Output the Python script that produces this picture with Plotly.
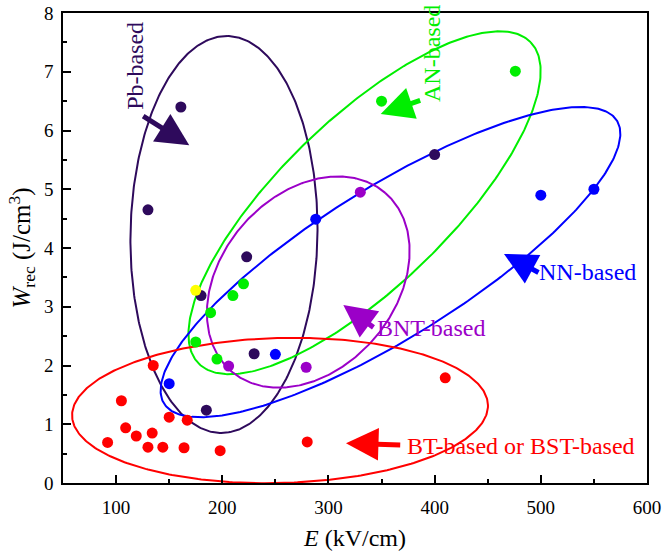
import numpy as np
import plotly.graph_objects as go

# ---------------- data ----------------
bt_E = [135, 105, 109, 119, 134, 130, 144, 164, 198, 92, 150, 167, 280, 410]
bt_W = [2.00, 1.40, 0.94, 0.80, 0.85, 0.61, 0.61, 0.60, 0.55, 0.69, 1.12, 1.07, 0.70, 1.79]
nn_E = [150, 250, 288, 500, 550]
nn_W = [1.69, 2.19, 4.49, 4.90, 5.00]
pb_E = [161, 130, 223, 180, 230, 185, 400]
pb_W = [6.40, 4.65, 3.85, 3.19, 2.20, 1.24, 5.59]
an_E = [476, 350, 175, 189, 210, 220, 195]
an_W = [7.01, 6.50, 2.40, 2.90, 3.19, 3.39, 2.11]
bnt_E = [330, 206, 279]
bnt_W = [4.95, 1.99, 1.97]
misc_E = [175]
misc_W = [3.28]

x_ticks = [100, 200, 300, 400, 500, 600]
y_ticks = [0, 1, 2, 3, 4, 5, 6, 7, 8]

# colours
C_BT = "#FF0000"
C_NN = "#0000FF"
C_PB = "#2E0A5C"
C_AN = "#00EE00"
C_BNT = "#9B00C8"
C_MISC = "#FFFF00"

FONT = "Liberation Serif, Times New Roman, Times, serif"

# group ellipses: centre (data), semi-axes (px), rotation (deg)
ellipses = [
    dict(cx=201.6, cy=4.23, a=198.5, b=93.5, ang=89.0, color=C_PB),
    dict(cx=334.0, cy=4.77, a=231.0, b=84.0, ang=44.0, color=C_AN),
    dict(cx=358.4, cy=3.76, a=267.0, b=75.0, ang=32.0, color=C_NN),
    dict(cx=281.0, cy=3.42, a=117.8, b=86.9, ang=49.0, color=C_BNT),
    dict(cx=254.4, cy=1.234, a=208.0, b=72.5, ang=1.5, color=C_BT),
]

# labels with arrows: text position, arrow tail, arrow tip (data)
labels = [
    dict(text="Pb-based", tx=117.8, ty=7.10, angle=-90, x0=124.1, y0=6.26, x1=168.9, y1=5.75, color=C_PB),
    dict(text="AN-based", tx=397.0, ty=7.31, angle=-90, x0=387.8, y0=6.52, x1=349.2, y1=6.28, color=C_AN),
    dict(text="NN-based", tx=544.4, ty=3.60, angle=0, x0=499.2, y0=3.57, x1=465.3, y1=3.90, color=C_NN),
    dict(text="BNT-based", tx=396.6, ty=2.64, angle=0, x0=343.8, y0=2.63, x1=314.0, y1=3.03, color=C_BNT),
    dict(text="BT-based or BST-based", tx=481.8, ty=0.63, angle=0, x0=369.0, y0=0.647, x1=316.5, y1=0.676, color=C_BT),
]

# ---------------- layout geometry ----------------
W, H = 662, 558
ML, MR, MT, MB = 63, 15, 13, 75
XR = [50, 600]
YR = [0, 8]
sx = (W - ML - MR) / (XR[1] - XR[0])
sy = (H - MT - MB) / (YR[1] - YR[0])

fig = go.Figure()

t = np.linspace(0, 2 * np.pi, 400)
for e in ellipses:
    th = np.deg2rad(e["ang"])
    dx = e["a"] * np.cos(t) * np.cos(th) - e["b"] * np.sin(t) * np.sin(th)
    dy = e["a"] * np.cos(t) * np.sin(th) + e["b"] * np.sin(t) * np.cos(th)
    fig.add_trace(go.Scatter(x=e["cx"] + dx / sx, y=e["cy"] + dy / sy, mode="lines",
                             line=dict(color=e["color"], width=2), showlegend=False,
                             hoverinfo="skip"))

for xs, ys, c in [(bt_E, bt_W, C_BT), (nn_E, nn_W, C_NN), (pb_E, pb_W, C_PB),
                  (an_E, an_W, C_AN), (bnt_E, bnt_W, C_BNT), (misc_E, misc_W, C_MISC)]:
    fig.add_trace(go.Scatter(x=xs, y=ys, mode="markers",
                             marker=dict(color=c, size=11, line=dict(width=0)),
                             showlegend=False))

for lb in labels:
    fig.add_annotation(x=lb["x1"], y=lb["y1"], ax=lb["x0"], ay=lb["y0"],
                       xref="x", yref="y", axref="x", ayref="y", text="",
                       showarrow=True, arrowhead=2, arrowsize=1.3, arrowwidth=5,
                       arrowcolor=lb["color"], standoff=0)
    fig.add_annotation(x=lb["tx"], y=lb["ty"], xref="x", yref="y", text=lb["text"],
                       showarrow=False, textangle=lb["angle"],
                       font=dict(family=FONT, size=24, color=lb["color"]),
                       xanchor="center", yanchor="middle")

axis_common = dict(showline=True, linecolor="black", linewidth=1.5, mirror=True,
                   ticks="inside", ticklen=8, tickwidth=1.5, tickcolor="black",
                   showgrid=False, zeroline=False, automargin=False,
                   ticklabeloverflow="allow",
                   tickfont=dict(family=FONT, size=19, color="black"))

fig.update_xaxes(range=XR, tickvals=x_ticks, ticktext=[str(v) for v in x_ticks],
                 minor=dict(ticks="inside", ticklen=4, tickwidth=1.5, tickcolor="black", dtick=50, tick0=0),
                 title=dict(text="<i>E</i> (kV/cm)", standoff=13,
                            font=dict(family=FONT, size=24, color="black")),
                 ticklabelstandoff=6, **axis_common)
fig.update_yaxes(range=YR, tickvals=y_ticks, ticktext=[str(v) for v in y_ticks],
                 minor=dict(ticks="inside", ticklen=4, tickwidth=1.5, tickcolor="black", dtick=0.5, tick0=0),
                 title=dict(text="<i>W</i><sub>rec</sub> (J/cm<sup>3</sup>)", standoff=6,
                            font=dict(family=FONT, size=25, color="black")),
                 ticklabelstandoff=4, **axis_common)

fig.update_layout(width=W, height=H, margin=dict(l=ML, r=MR, t=MT, b=MB, autoexpand=False),
                  font=dict(family=FONT),
                  paper_bgcolor="white", plot_bgcolor="white", showlegend=False)

fig.write_html("out.html", config={"displayModeBar": False},
               post_script="document.body.style.margin='0';document.body.style.overflow='hidden';")
